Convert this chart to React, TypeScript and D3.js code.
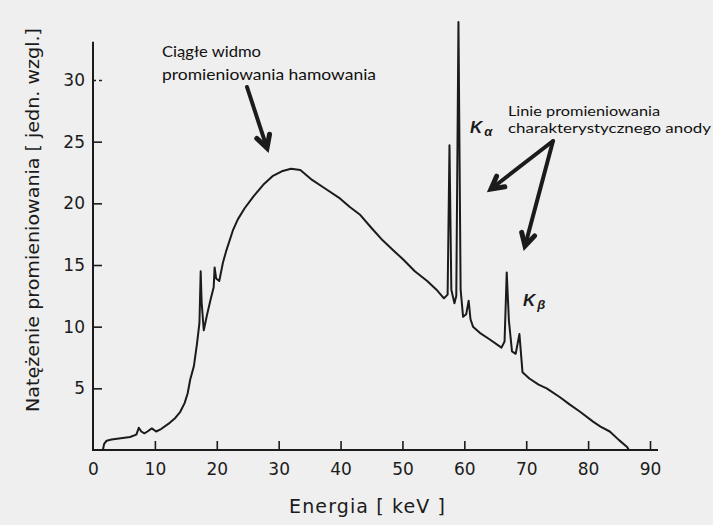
import * as d3 from 'd3';
import { useRef, useEffect } from 'react';

// energia [keV] i natężenie [jedn. wzgl.]
const energy = [
  1.6, 1.8, 2.2, 3, 4.5, 6, 7, 7.4, 7.8, 8.3, 8.8, 9.5, 10.2, 11, 12.4, 13.3, 14.1, 14.8, 15.3, 15.7,
  16.3, 16.8, 17.2, 17.4, 17.55, 17.9, 18.4, 19.0, 19.5, 19.65, 19.9, 20.4, 21.0, 21.5, 22.6, 23.4,
  24.5, 26, 27.5, 29, 30.5, 32, 33.5, 35.4, 37.5, 39.9, 41.5, 43.1, 45, 46.8, 48.5, 50, 52, 54, 55.5,
  56.7, 57.3, 57.6, 57.9, 58.4, 58.7, 59.05, 59.4, 59.8, 60.3, 60.7, 61.0, 61.4, 62.5, 64, 66.0, 66.5,
  66.85, 67.2, 67.7, 68.3, 68.9, 69.4, 70.5, 72, 73.3, 75.4, 77, 78.7, 80.8, 82, 83.5, 85, 86.3, 86.6,
];
const intensity = [
  0, 0.5, 0.75, 0.85, 0.95, 1.05, 1.25, 1.8, 1.5, 1.35, 1.5, 1.75, 1.5, 1.7, 2.2, 2.6, 3.1, 3.8, 4.6, 5.7,
  6.8, 8.6, 10.3, 14.5, 12, 9.7, 10.9, 12.2, 13.2, 14.8, 13.9, 13.7, 15.2, 16.1, 17.8, 18.7,
  19.6, 20.6, 21.5, 22.2, 22.6, 22.8, 22.7, 21.9, 21.2, 20.4, 19.7, 19.1, 18.0, 17.0, 16.2, 15.5, 14.5, 13.7, 13.0,
  12.3, 12.6, 24.7, 13.0, 11.9, 12.5, 34.7, 13, 10.8, 11.0, 12.1, 10.6, 10.0, 9.5, 9.0, 8.3, 8.8,
  14.4, 10.5, 8.0, 7.8, 9.4, 6.3, 5.8, 5.3, 5.0, 4.3, 3.7, 3.1, 2.3, 1.9, 1.5, 0.8, 0.25, 0,
];
const xTicks = [0, 10, 20, 30, 40, 50, 60, 70, 80, 90];
const yTicks = [5, 10, 15, 20, 25, 30];

const W = 713;
const H = 525;
const INK = '#1b1b1b';

function arrow(svg, x1, y1, x2, y2) {
  const a = Math.atan2(y2 - y1, x2 - x1);
  const len = 14;
  const spread = 0.5;
  svg.append('line')
    .attr('x1', x1).attr('y1', y1).attr('x2', x2).attr('y2', y2)
    .attr('stroke', INK).attr('stroke-width', 4).attr('stroke-linecap', 'round');
  const pts = [
    [x2 - len * Math.cos(a - spread), y2 - len * Math.sin(a - spread)],
    [x2, y2],
    [x2 - len * Math.cos(a + spread), y2 - len * Math.sin(a + spread)],
  ];
  svg.append('polyline')
    .attr('points', pts.map(p => p.join(',')).join(' '))
    .attr('fill', 'none')
    .attr('stroke', INK).attr('stroke-width', 5)
    .attr('stroke-linejoin', 'miter').attr('stroke-linecap', 'round');
}

export default function App() {
  const svgRef = useRef<SVGSVGElement>(null);

  useEffect(() => {
    const svg = d3.select(svgRef.current);
    svg.selectAll('*').remove();

    svg.append('rect').attr('width', W).attr('height', H).attr('fill', '#efefef');

    const x = d3.scaleLinear().domain([0, 90]).range([93, 650]);
    const y = d3.scaleLinear().domain([0, 30]).range([450, 80]);

    // osie
    svg.append('line')
      .attr('x1', x(0)).attr('y1', y(0)).attr('x2', x(90) + 8).attr('y2', y(0))
      .attr('stroke', INK).attr('stroke-width', 2);
    svg.append('line')
      .attr('x1', x(0)).attr('y1', y(0) + 1).attr('x2', x(0)).attr('y2', y(33.1))
      .attr('stroke', INK).attr('stroke-width', 2);

    const gx = svg.append('g')
      .attr('transform', `translate(0,${y(0)})`)
      .call(d3.axisBottom(x).tickValues(xTicks).tickSize(-9).tickSizeOuter(0).tickPadding(13));
    gx.select('.domain').remove();
    gx.selectAll('.tick').filter(d => d === 0).select('line').remove();
    gx.selectAll('line').attr('stroke', INK).attr('stroke-width', 1.6);
    gx.selectAll('text')
      .attr('fill', INK)
      .style('font-family', '"DejaVu Sans", sans-serif')
      .style('font-size', '17px');

    const gy = svg.append('g')
      .attr('transform', `translate(${x(0)},0)`)
      .call(d3.axisLeft(y).tickValues(yTicks).tickSize(-9).tickSizeOuter(0).tickPadding(8));
    gy.select('.domain').remove();
    gy.selectAll('line').attr('stroke', INK).attr('stroke-width', 1.6);
    gy.selectAll('.tick').filter(d => d === 30).select('line').attr('stroke-dasharray', '3,3');
    gy.selectAll('text')
      .attr('fill', INK)
      .style('font-family', '"DejaVu Sans", sans-serif')
      .style('font-size', '17px');

    // widmo
    const line = d3.line<number>()
      .x((d, i) => x(energy[i]))
      .y(d => y(d));
    svg.append('path')
      .attr('d', line(intensity))
      .attr('fill', 'none')
      .attr('stroke', INK)
      .attr('stroke-width', 2)
      .attr('stroke-linejoin', 'round');

    // opisy osi
    svg.append('text')
      .attr('x', 367).attr('y', 513)
      .attr('text-anchor', 'middle')
      .attr('textLength', 156).attr('lengthAdjust', 'spacing')
      .style('font-family', '"DejaVu Sans", sans-serif')
      .style('font-size', '19px')
      .attr('fill', INK)
      .text('Energia [ keV ]');

    svg.append('text')
      .attr('transform', 'translate(39,220) rotate(-90)')
      .attr('text-anchor', 'middle')
      .attr('textLength', 384).attr('lengthAdjust', 'spacingAndGlyphs')
      .style('font-family', '"DejaVu Sans", sans-serif')
      .style('font-size', '18.5px')
      .attr('fill', INK)
      .text('Natężenie promieniowania [ jedn. wzgl.]');

    // adnotacje
    const note = (tx, ty, str, len, size) => svg.append('text')
      .attr('x', tx).attr('y', ty)
      .attr('textLength', len).attr('lengthAdjust', 'spacingAndGlyphs')
      .style('font-family', 'Lato, "Open Sans", sans-serif')
      .style('font-size', `${size}px`)
      .attr('fill', '#111')
      .text(str);
    note(162, 57, 'Ciągłe widmo', 99, 16);
    note(162, 80, 'promieniowania hamowania', 214, 16);
    note(508, 116, 'Linie promieniowania', 152, 14);
    note(508, 133, 'charakterystycznego anody', 203, 14);

    const kLabel = (tx, ty, sub) => {
      const t = svg.append('text')
        .attr('x', tx).attr('y', ty)
        .style('font-family', '"Liberation Sans", sans-serif')
        .style('font-style', 'italic')
        .style('font-weight', 'bold')
        .style('font-size', '17px')
        .attr('fill', INK);
      t.append('tspan').text('K');
      t.append('tspan').attr('dx', 2).attr('dy', 3).style('font-size', '13px').text(sub);
    };
    kLabel(470, 133, 'α');
    kLabel(523, 306, 'β');

    arrow(svg, 247, 87, 267, 148);
    arrow(svg, 553, 141, 491, 189);
    arrow(svg, 553, 141, 525, 246);
  }, []);

  return (
    <div style={{ position: 'absolute', left: 0, top: 0 }}>
      <svg ref={svgRef} width={W} height={H} style={{ display: 'block' }}></svg>
    </div>
  );
}
